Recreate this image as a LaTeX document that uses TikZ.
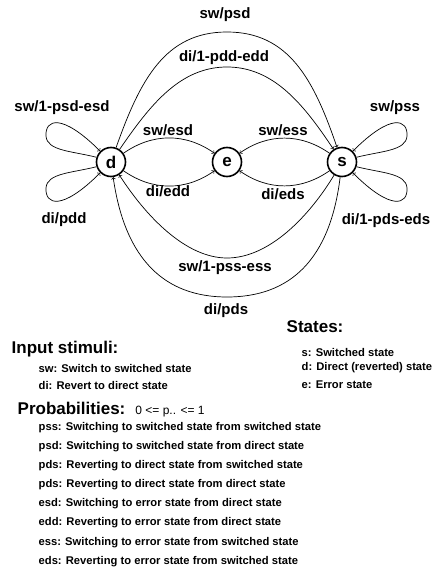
\documentclass[tikz,border=0pt]{standalone}
\usepackage{fontspec}
\setmainfont{Liberation Sans}
\begin{document}
\begin{tikzpicture}[x=1pt, y=-1pt, line width=0.7pt,
        state/.style={draw, circle, line width=1.6pt, minimum size=29pt, inner sep=0pt, font=\fontsize{17}{17}\selectfont\bfseries},
        lbl/.style={font=\fontsize{15}{15}\selectfont\bfseries},
        hdr/.style={anchor=west, font=\fontsize{17}{17}\selectfont\bfseries},
        item/.style={anchor=west, font=\fontsize{11.2}{11.2}\selectfont\bfseries}]
        \useasboundingbox (0,0) rectangle (433,569);
        \node[state] at(111,162) (d) {d};
        \node[state] at(227,162) (e) {e};
        \node[state] at(342,162) (s) {s};
        % d <-> s
        \draw[->] (d) .. controls (140,80) and (165,32) .. (227,32) .. controls (289,32) and (314,80) .. (s);
        \draw[->] (d) .. controls (150,105) and (180,67) .. (227,67) .. controls (274,67) and (304,105) .. (s);
        \draw[->] (s) .. controls (310,215) and (270,258) .. (227,258) .. controls (185,258) and (145,215) .. (d);
        \draw[->] (s) .. controls (330,260) and (290,297) .. (227,297) .. controls (165,297) and (125,260) .. (d);
        % to the error state
        \draw[->] (d) to[bend left=35] (e);
        \draw[->] (d) to[bend right=35] (e);
        \draw[->] (s) to[bend right=35] (e);
        \draw[->] (s) to[bend left=35] (e);
        % self loops
        \draw[->] (d.162) .. controls (72,151) and (47,151) .. (46,136) .. controls (45,119) and (62,113) .. (d.135);
        \draw[->] (d.198) .. controls (72,173) and (47,173) .. (46,188) .. controls (45,205) and (62,211) .. (d.225);
        \draw[->] (s.18) .. controls (381,151) and (406,151) .. (407,136) .. controls (408,119) and (391,113) .. (s.45);
        \draw[->] (s.-18) .. controls (381,173) and (406,173) .. (407,188) .. controls (408,205) and (391,211) .. (s.-45);
        % labels
        \node[lbl] at(225,15) (lpsd) {sw/psd};
        \node[lbl] at(224,58) (lpdd) {di/1-pdd-edd};
        \node[lbl] at(62,108) (lsdd) {sw/1-psd-esd};
        \node[lbl] at(395,108) (lpss) {sw/pss};
        \node[lbl] at(168,130) (lesd) {sw/esd};
        \node[lbl] at(283,130) (less) {sw/ess};
        \node[lbl] at(168,191) (ledd) {di/edd};
        \node[lbl] at(283,194) (leds) {di/eds};
        \node[lbl] at(64,220) (lpdd2) {di/pdd};
        \node[lbl] at(386,221) (lpds2) {di/1-pds-eds};
        \node[lbl] at(225,268) (lsss) {sw/1-pss-ess};
        \node[lbl] at(226,311) (lpds) {di/pds};
        % legend
        \node[hdr] at(283,327) (states) {States:};
        \node[item] at(298,352) (st0) {s: Switched state};
        \node[item] at(298,368) (st1) {d: Direct (reverted) state};
        \node[item] at(298,385) (st2) {e: Error state};
        \node[hdr] at(8,349) (input) {Input stimuli:};
        \node[item] at(35,368) (in0) {sw: Switch to switched state};
        \node[item] at(35,385) (in1) {di: Revert to direct state};
        \node[hdr] at(14,408) (prob) {Probabilities:};
        \node[anchor=base west, inner sep=0pt, font=\fontsize{12}{12}\selectfont] at([xshift=6pt]prob.base east) (range) {0 <= p.. <= 1};
        \node[item] at(35,428) (p0) {pss: Switching to switched state from switched state};
        \node[item] at(35,447) (p1) {psd: Switching to switched state from direct state};
        \node[item] at(35,466) (p2) {pds: Reverting to direct state from switched state};
        \node[item] at(35,485) (p3) {pds: Reverting to direct state from direct state};
        \node[item] at(35,504) (p4) {esd: Switching to error state from direct state};
        \node[item] at(35,523) (p5) {edd: Reverting to error state from direct state};
        \node[item] at(35,543) (p6) {ess: Switching to error state from switched state};
        \node[item] at(35,562) (p7) {eds: Reverting to error state from switched state};
    \end{tikzpicture}
\end{document}
